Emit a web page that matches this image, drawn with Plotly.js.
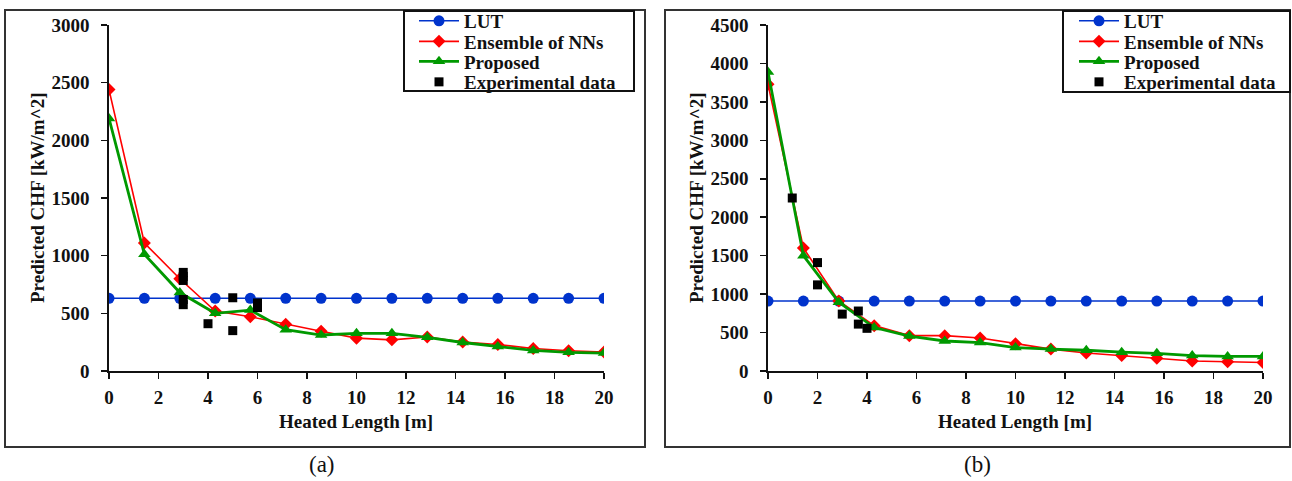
<!DOCTYPE html>
<html>
<head>
<meta charset="utf-8">
<script src="https://cdn.plot.ly/plotly-3.0.1.min.js"></script>
<style>html,body{margin:0;padding:0;background:#fff;}#chart{width:1292px;height:481px;}</style>
</head>
<body>
<div id="chart"></div>
<script>
// Heated length positions (m)
const heatedLength = [0, 1.43, 2.86, 4.29, 5.71, 7.14, 8.57, 10, 11.43, 12.86, 14.29, 15.71, 17.14, 18.57, 20];

// Panel (a)
const lutA = [630, 630, 630, 630, 630, 630, 630, 630, 630, 630, 630, 630, 630, 630, 630];
const ensembleA = [2440, 1110, 800, 520, 470, 405, 345, 285, 270, 295, 252, 230, 195, 175, 165];
const proposedA = [2190, 1012, 680, 500, 528, 358, 312, 327, 327, 292, 247, 212, 178, 162, 155];
const expXA = [3, 3, 3, 3, 3, 4, 5, 5, 6, 6];
const expYA = [855, 820, 785, 620, 575, 410, 635, 350, 590, 550];

// Panel (b)
const lutB = [910, 910, 910, 910, 910, 910, 910, 910, 910, 910, 910, 910, 910, 910, 910];
const ensembleB = [3730, 1600, 910, 590, 460, 460, 430, 355, 285, 235, 200, 165, 130, 120, 110];
const proposedB = [3890, 1500, 895, 565, 455, 390, 370, 305, 285, 270, 245, 230, 200, 190, 190];
const expXB = [0.98, 2, 2, 3, 3.65, 3.65, 4];
const expYB = [2250, 1410, 1120, 740, 780, 610, 555];

const seriesNames = ["LUT", "Ensemble of NNs", "Proposed", "Experimental data"];
const xTickVals = [0, 2, 4, 6, 8, 10, 12, 14, 16, 18, 20];

const W = 1292, H = 481;
const serif = "Times New Roman, Liberation Serif, DejaVu Serif, serif";
const tickFont = {family: serif, size: 19, color: "#111", weight: "bold"};
const titleFont = {family: serif, size: 19, color: "#111", weight: "bold"};
const legendFont = {family: serif, size: 19, color: "#111", weight: "bold"};

function panelTraces(xa, ya, legs, lut, ens, prop, ex, ey) {
  return [
    {x: heatedLength, y: lut, name: seriesNames[0], xaxis: xa, yaxis: ya, legend: legs[0], mode: "lines+markers",
     line: {color: "#0033cc", width: 1.5}, marker: {symbol: "circle", size: 11, color: "#0033cc"}},
    {x: heatedLength, y: ens, name: seriesNames[1], xaxis: xa, yaxis: ya, legend: legs[1], mode: "lines+markers",
     line: {color: "#ff0000", width: 1.6}, marker: {symbol: "diamond", size: 10, color: "#ff0000"}},
    {x: heatedLength, y: prop, name: seriesNames[2], xaxis: xa, yaxis: ya, legend: legs[2], mode: "lines+markers",
     line: {color: "#009900", width: 2.8}, marker: {symbol: "triangle-up", size: 11, color: "#009900"}},
    {x: ex, y: ey, name: seriesNames[3], xaxis: xa, yaxis: ya, legend: legs[3], mode: "markers",
     marker: {symbol: "square", size: 9, color: "#000000"}}
  ];
}

const data = [].concat(
  panelTraces("x", "y", ["legend", "legend2", "legend3", "legend4"], lutA, ensembleA, proposedA, expXA, expYA),
  panelTraces("x2", "y2", ["legend5", "legend6", "legend7", "legend8"], lutB, ensembleB, proposedB, expXB, expYB)
);

function px(v) { return v / W; }
function py(v) { return 1 - v / H; }

function xAxis(d0, d1, anchor) {
  return {domain: [px(d0), px(d1)], anchor: anchor, range: [0, 20], tickvals: xTickVals,
    showgrid: false, zeroline: false, showline: true, linecolor: "#111", linewidth: 1.6,
    ticks: "outside", ticklen: 6, tickwidth: 1.6, tickcolor: "#111", tickfont: tickFont,
    ticklabelstandoff: 3};
}
function yAxis(max, anchor) {
  return {domain: [py(371), py(25)], anchor: anchor, range: [0, max], dtick: 500, tick0: 0,
    showgrid: false, zeroline: false, showline: true, linecolor: "#111", linewidth: 1.6,
    ticks: "outside", ticklen: 6, tickwidth: 1.6, tickcolor: "#111", tickfont: tickFont,
    ticklabelstandoff: 8};
}

function leg(xPix, yPix) {
  return {bgcolor: "rgba(0,0,0,0)", borderwidth: 0, font: legendFont, x: px(xPix), y: py(yPix),
    xanchor: "left", yanchor: "middle", tracegroupgap: 0, itemwidth: 40};
}
const rowsY = [21, 41.5, 61.5, 82];

const layout = {
  width: W, height: H,
  showlegend: true,
  margin: {l: 0, r: 0, t: 0, b: 0},
  paper_bgcolor: "#ffffff", plot_bgcolor: "#ffffff",
  xaxis: xAxis(109, 604, "y"),
  yaxis: yAxis(3000, "x"),
  xaxis2: xAxis(768, 1263, "y2"),
  yaxis2: yAxis(4500, "x2"),
  legend: leg(414, rowsY[0]), legend2: leg(414, rowsY[1]), legend3: leg(414, rowsY[2]), legend4: leg(414, rowsY[3]),
  legend5: leg(1074, rowsY[0]), legend6: leg(1074, rowsY[1]), legend7: leg(1074, rowsY[2]), legend8: leg(1074, rowsY[3]),
  shapes: [
    {type: "rect", xref: "paper", yref: "paper", x0: px(5), x1: px(645), y0: py(447), y1: py(10),
     line: {color: "#333", width: 2}},
    {type: "rect", xref: "paper", yref: "paper", x0: px(665), x1: px(1290), y0: py(447), y1: py(10),
     line: {color: "#333", width: 2}},
    {type: "rect", xref: "paper", yref: "paper", x0: px(404), x1: px(634), y0: py(91), y1: py(11),
     line: {color: "#111", width: 2}},
    {type: "rect", xref: "paper", yref: "paper", x0: px(1063), x1: px(1290), y0: py(92), y1: py(11),
     line: {color: "#111", width: 2}}
  ],
  annotations: [
    {text: "Heated Length [m]", xref: "paper", yref: "paper", x: px(356), y: py(421), showarrow: false,
     font: titleFont, xanchor: "center", yanchor: "middle"},
    {text: "Heated Length [m]", xref: "paper", yref: "paper", x: px(1015), y: py(421), showarrow: false,
     font: titleFont, xanchor: "center", yanchor: "middle"},
    {text: "Predicted CHF [kW/m^2]", xref: "paper", yref: "paper", x: px(37), y: py(198), showarrow: false,
     font: titleFont, textangle: -90, xanchor: "center", yanchor: "middle"},
    {text: "Predicted CHF [kW/m^2]", xref: "paper", yref: "paper", x: px(696), y: py(198), showarrow: false,
     font: titleFont, textangle: -90, xanchor: "center", yanchor: "middle"},
    {text: "(a)", xref: "paper", yref: "paper", x: px(322), y: py(464), showarrow: false,
     font: {family: serif, size: 23, color: "#111"}, xanchor: "center", yanchor: "middle"},
    {text: "(b)", xref: "paper", yref: "paper", x: px(977), y: py(464), showarrow: false,
     font: {family: serif, size: 23, color: "#111"}, xanchor: "center", yanchor: "middle"}
  ]
};

Plotly.newPlot("chart", data, layout, {displayModeBar: false, staticPlot: true});
</script>
</body>
</html>
